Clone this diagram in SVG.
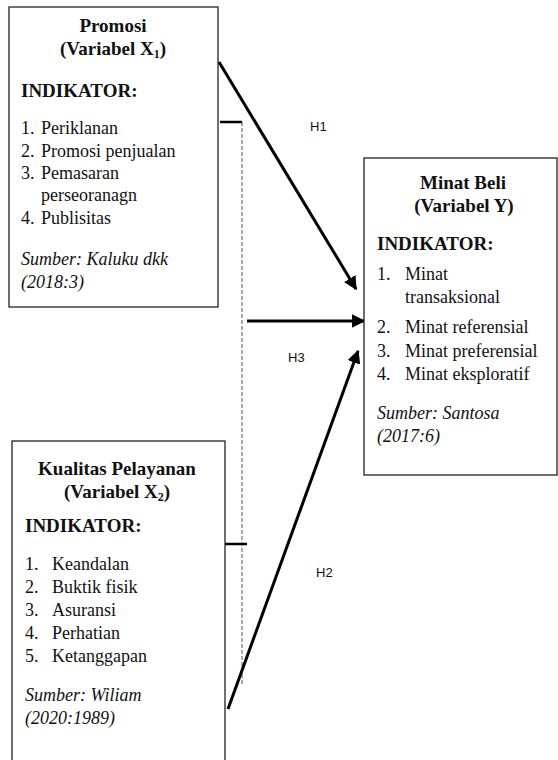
<svg xmlns="http://www.w3.org/2000/svg" width="558" height="760" viewBox="0 0 558 760">
<style>
.box{fill:#fff;stroke:#222;stroke-width:1.3}
.t{font-family:"Liberation Serif","Times New Roman",serif;font-size:18px;fill:#111}
.b{font-weight:bold;font-size:19px}
.i{font-style:italic}
.c{text-anchor:middle}
.h{font-family:"Liberation Sans",Arial,sans-serif;font-size:13px;fill:#111}
.arr{stroke:#000;stroke-width:3;fill:none}
.seg{stroke:#000;stroke-width:2.5;fill:none}
.dash{stroke:#555;stroke-width:1;stroke-dasharray:4 2;fill:none}
</style>
<defs>
<marker id="ah" viewBox="0 0 10 10" refX="9" refY="5" markerWidth="4.5" markerHeight="4.5" orient="auto" markerUnits="strokeWidth">
<path d="M0,0 L10,5 L0,10 z" fill="#000"/>
</marker>
</defs>
<g id="connectors">
<line class="dash" x1="242" y1="122" x2="242" y2="685"/>
<line class="seg" x1="220" y1="122" x2="242" y2="122"/>
<line class="seg" x1="225" y1="544" x2="247" y2="544"/>
<line class="arr" x1="219" y1="62" x2="356" y2="289" marker-end="url(#ah)"/>
<line class="arr" x1="247" y1="321" x2="364" y2="321" marker-end="url(#ah)"/>
<line class="arr" x1="228" y1="709" x2="358" y2="351" marker-end="url(#ah)"/>
<text class="h" x="310" y="131">H1</text>
<text class="h" x="288" y="362">H3</text>
<text class="h" x="316" y="577">H2</text>
</g>
<g id="promosi">
<rect class="box" x="9" y="7" width="209" height="300"/>
<text class="t b c" x="113" y="32">Promosi</text>
<text class="t b c" x="113" y="55">(Variabel X<tspan font-size="12" dy="3">1</tspan><tspan dy="-3">)</tspan></text>
<text class="t b" x="21" y="97">INDIKATOR:</text>
<text class="t" x="21" y="134">1.</text><text class="t" x="41" y="134">Periklanan</text>
<text class="t" x="21" y="157">2.</text><text class="t" x="41" y="157">Promosi penjualan</text>
<text class="t" x="21" y="179">3.</text><text class="t" x="41" y="179">Pemasaran</text>
<text class="t" x="41" y="201">perseoranagn</text>
<text class="t" x="21" y="224">4.</text><text class="t" x="41" y="224">Publisitas</text>
<text class="t i" x="21" y="265">Sumber: Kaluku dkk</text>
<text class="t i" x="21" y="288">(2018:3)</text>
</g>
<g id="minat-beli">
<rect class="box" x="364" y="158" width="193" height="317"/>
<text class="t b c" x="463" y="189">Minat Beli</text>
<text class="t b c" x="464" y="212">(Variabel Y)</text>
<text class="t b" x="377" y="250">INDIKATOR:</text>
<text class="t" x="377" y="280">1.</text><text class="t" x="405" y="280">Minat</text>
<text class="t" x="405" y="303">transaksional</text>
<text class="t" x="377" y="333">2.</text><text class="t" x="405" y="333">Minat referensial</text>
<text class="t" x="377" y="357">3.</text><text class="t" x="405" y="357">Minat preferensial</text>
<text class="t" x="377" y="380">4.</text><text class="t" x="405" y="380">Minat eksploratif</text>
<text class="t i" x="377" y="419">Sumber: Santosa</text>
<text class="t i" x="377" y="442">(2017:6)</text>
</g>
<g id="kualitas-pelayanan">
<rect class="box" x="12" y="441" width="213" height="330"/>
<text class="t b c" x="117" y="475">Kualitas Pelayanan</text>
<text class="t b c" x="117" y="498">(Variabel X<tspan font-size="12" dy="3">2</tspan><tspan dy="-3">)</tspan></text>
<text class="t b" x="25" y="532">INDIKATOR:</text>
<text class="t" x="25" y="570">1.</text><text class="t" x="52" y="570">Keandalan</text>
<text class="t" x="25" y="593">2.</text><text class="t" x="52" y="593">Buktik fisik</text>
<text class="t" x="25" y="616">3.</text><text class="t" x="52" y="616">Asuransi</text>
<text class="t" x="25" y="639">4.</text><text class="t" x="52" y="639">Perhatian</text>
<text class="t" x="25" y="662">5.</text><text class="t" x="52" y="662">Ketanggapan</text>
<text class="t i" x="25" y="701">Sumber: Wiliam</text>
<text class="t i" x="25" y="724">(2020:1989)</text>
</g>
</svg>
